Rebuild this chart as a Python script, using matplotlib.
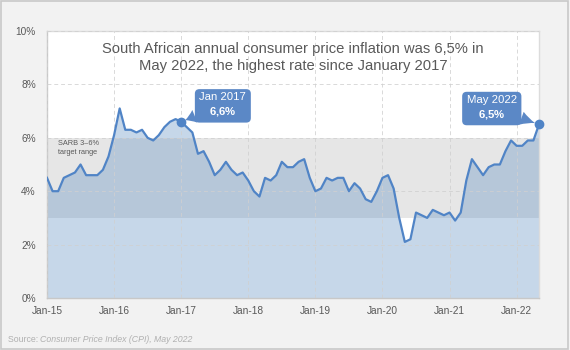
import matplotlib
matplotlib.use('Agg')
import matplotlib.pyplot as plt
from matplotlib.patches import Rectangle
import numpy as np

plt.rcParams['font.family'] = ['Liberation Sans', 'DejaVu Sans']
plt.rcParams['mathtext.fontset'] = 'custom'
plt.rcParams['mathtext.rm'] = 'Liberation Sans'
plt.rcParams['mathtext.bf'] = 'Liberation Sans:bold'

# monthly CPI, Jan 2015 .. May 2022
cpi_2015 = [4.5, 4.0, 4.0, 4.5, 4.6, 4.7, 5.0, 4.6, 4.6, 4.6, 4.8, 5.3]
cpi_2016 = [6.1, 7.1, 6.3, 6.3, 6.2, 6.3, 6.0, 5.9, 6.1, 6.4, 6.6, 6.7]
cpi_2017 = [6.6, 6.4, 6.2, 5.4, 5.5, 5.1, 4.6, 4.8, 5.1, 4.8, 4.6, 4.7]
cpi_2018 = [4.4, 4.0, 3.8, 4.5, 4.4, 4.6, 5.1, 4.9, 4.9, 5.1, 5.2, 4.5]
cpi_2019 = [4.0, 4.1, 4.5, 4.4, 4.5, 4.5, 4.0, 4.3, 4.1, 3.7, 3.6, 4.0]
cpi_2020 = [4.5, 4.6, 4.1, 3.0, 2.1, 2.2, 3.2, 3.1, 3.0, 3.3, 3.2, 3.1]
cpi_2021 = [3.2, 2.9, 3.2, 4.4, 5.2, 4.9, 4.6, 4.9, 5.0, 5.0, 5.5, 5.9]
cpi_2022 = [5.7, 5.7, 5.9, 5.9, 6.5]
cpi = np.array(cpi_2015 + cpi_2016 + cpi_2017 + cpi_2018 + cpi_2019 +
               cpi_2020 + cpi_2021 + cpi_2022)
months = np.arange(len(cpi))

year_labels = ['Jan-15', 'Jan-16', 'Jan-17', 'Jan-18', 'Jan-19', 'Jan-20', 'Jan-21', 'Jan-22']
y_ticks = [0, 2, 4, 6, 8, 10]
target_low, target_high = 3, 6
callouts = [(24, 'Jan 2017', '6{,}6\\%', (30, 12)),
            (88, 'May 2022', '6{,}5\\%', (-34, 12))]

line_col = '#5084c6'
box_col = '#5b88c6'
text_col = '#595959'

fig = plt.figure(figsize=(5.7, 3.5), dpi=100)
fig.patch.set_facecolor('#f2f2f2')
fig.patches.append(Rectangle((0.002, 0.003), 0.995, 0.994, transform=fig.transFigure,
                             fill=False, ec='#c8c8c8', lw=1.2))

ax = fig.add_axes([47 / 570, 1 - 298 / 350, 492 / 570, 267 / 350])
ax.set_facecolor('white')

ax.axhspan(target_low, target_high, color='#e6e6e6', lw=0, zorder=1)
ax.fill_between(months, cpi, 0, color='#6190c2', alpha=0.36, lw=0, zorder=2)
ax.plot(months, cpi, color=line_col, lw=1.6, zorder=4)

ax.set_xlim(0, len(cpi) - 1)
ax.set_ylim(0, 10)
ax.set_xticks(np.arange(0, len(cpi), 12))
ax.set_xticklabels(year_labels)
ax.set_yticks(y_ticks)
ax.set_yticklabels([f'{v}%' for v in y_ticks])
ax.tick_params(axis='both', colors='#bfbfbf', labelcolor=text_col, labelsize=7.3, length=0)
ax.tick_params(axis='y', pad=8)
ax.tick_params(axis='x', pad=6)
ax.grid(True, color='#d0d0d0', ls=(0, (4, 3)), lw=0.7, alpha=0.8, zorder=3)
ax.set_axisbelow(False)
for side, sp in ax.spines.items():
    sp.set_color('#c8c8c8' if side in ('left', 'bottom') else '#dcdcdc')
    sp.set_linewidth(1.0)

ax.text(0.5, 0.9, 'South African annual consumer price inflation was 6,5% in\n'
        'May 2022, the highest rate since January 2017',
        transform=ax.transAxes, ha='center', va='center', fontsize=10.6,
        color=text_col, linespacing=1.25)

ax.text(2, target_high - 0.1, 'SARB 3\u20136%\ntarget range', fontsize=5.3,
        color=text_col, va='top', ha='left', zorder=5, linespacing=1.3)

for idx, lab, val, off in callouts:
    ax.plot(months[idx], cpi[idx], 'o', color=line_col, ms=6, zorder=6, clip_on=False)
    ax.annotate(lab + '\n$\\mathbf{' + val + '}$', xy=(months[idx], cpi[idx]),
                xytext=off, textcoords='offset points', ha='center', va='center',
                fontsize=8.2, color='white', linespacing=1.3, zorder=7,
                bbox=dict(boxstyle='round,pad=0.4,rounding_size=0.4', fc=box_col, ec='none'),
                arrowprops=dict(arrowstyle='wedge,tail_width=1.2,shrink_factor=0.4',
                                fc=box_col, ec='none', shrinkA=0, shrinkB=3))

fig.text(0.014, 0.031, 'Source: ', fontsize=6.3, color='#b0b0b0', ha='left', va='center')
fig.text(0.071, 0.031, 'Consumer Price Index (CPI), May 2022', fontsize=6.3,
         color='#b0b0b0', style='italic', ha='left', va='center')

fig.savefig('out.png', dpi=100, facecolor=fig.get_facecolor())
